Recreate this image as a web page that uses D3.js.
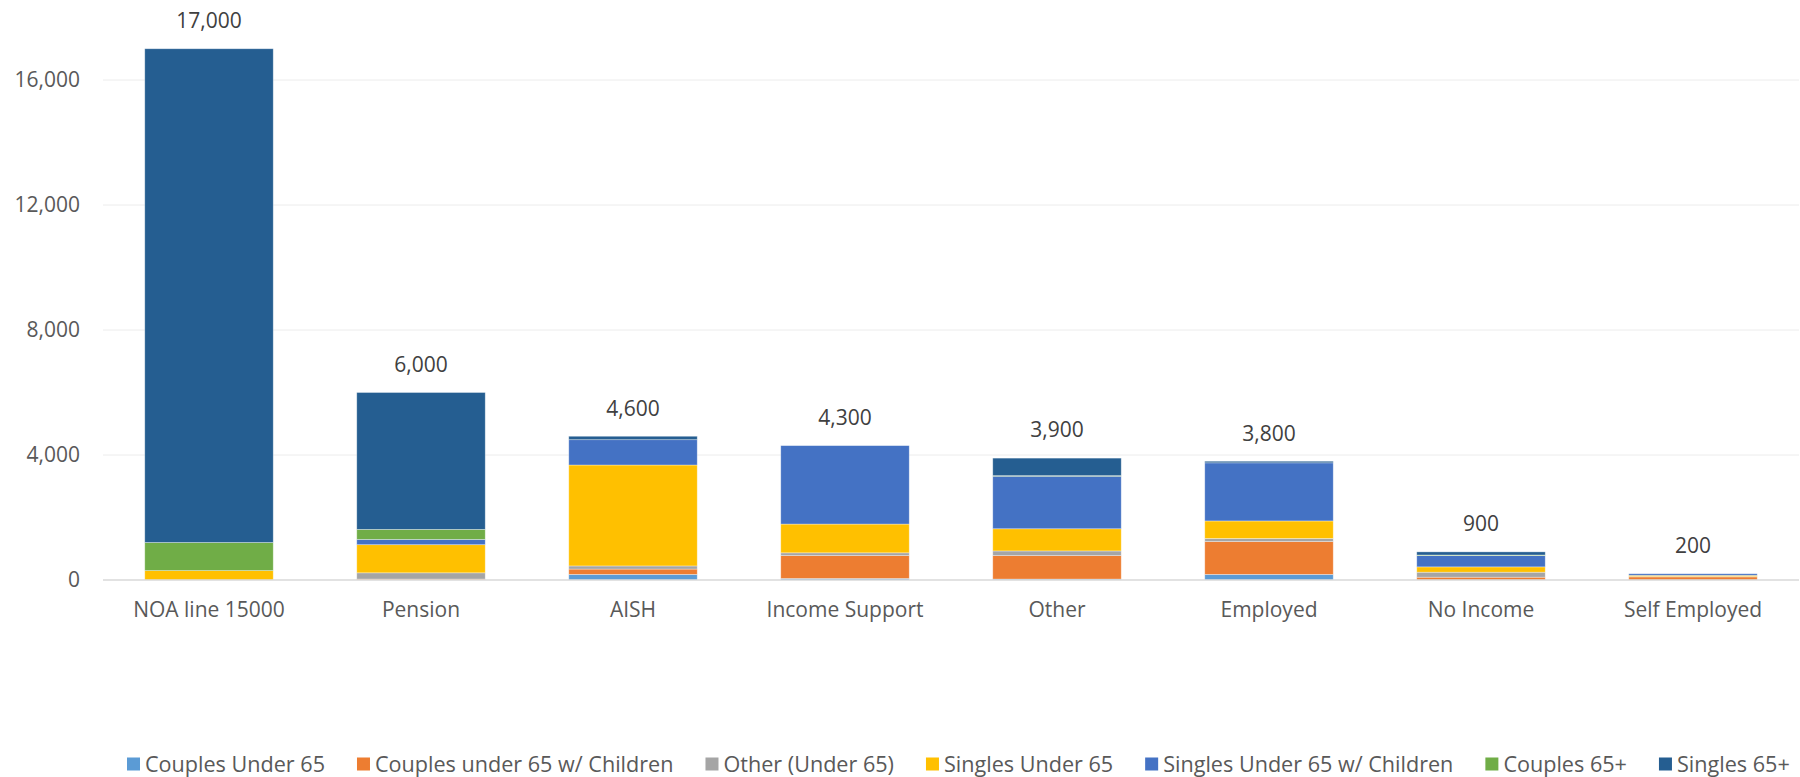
<!DOCTYPE html>
<html>
<head>
<meta charset="utf-8">
<script src="https://cdn.jsdelivr.net/npm/d3@7"></script>
<style>
  html, body { margin: 0; padding: 0; background: #ffffff; }
  svg { display: block; }
  text { font-family: "Open Sans", "Noto Sans", sans-serif; }
</style>
</head>
<body>
<svg id="chart" width="1800" height="777"></svg>
<script>
// Households by income source, stacked by household type
const categories = ["NOA line 15000", "Pension", "AISH", "Income Support", "Other", "Employed", "No Income", "Self Employed"];

const seriesNames = [
  "Couples Under 65",
  "Couples under 65 w/ Children",
  "Other (Under 65)",
  "Singles Under 65",
  "Singles Under 65 w/ Children",
  "Couples 65+",
  "Singles 65+"
];

const couplesUnder65         = [0,     0,    180, 50,   30,   180,  0,   0];
const couplesUnder65Children = [0,     30,   170, 730,  750,  1050, 90,  100];
const otherUnder65           = [0,     200,  100, 90,   150,  100,  160, 10];
const singlesUnder65         = [300,   900,  3230, 920, 710,  560,  170, 40];
const singlesUnder65Children = [0,     170,  810, 2510, 1680, 1860, 360, 50];
const couples65Plus          = [900,   320,  0,   0,    20,   0,    20,  0];
const singles65Plus          = [15800, 4380, 110, 0,    560,  50,   100, 0];

const seriesValues = [couplesUnder65, couplesUnder65Children, otherUnder65, singlesUnder65,
                      singlesUnder65Children, couples65Plus, singles65Plus];

const seriesColors = ["#5B9BD5", "#ED7D31", "#A5A5A5", "#FFC000", "#4472C4", "#70AD47", "#255E91"];

const yTicks = [0, 4000, 8000, 12000, 16000];

// Layout
const plot = { left: 103, right: 1799, top: 80, bottom: 580 };

const svg = d3.select("#chart");

const rows = categories.map((c, i) => {
  const r = { category: c };
  seriesNames.forEach((s, j) => { r[s] = seriesValues[j][i]; });
  return r;
});

const stacked = d3.stack().keys(seriesNames)(rows);

const x = d3.scaleBand()
  .domain(categories)
  .range([plot.left, plot.right])
  .paddingInner(0.394)
  .paddingOuter(0.197);

const y = d3.scaleLinear()
  .domain([0, 16000])
  .range([plot.bottom, plot.top]);

const color = d3.scaleOrdinal().domain(seriesNames).range(seriesColors);

// Gridlines
svg.append("g")
  .selectAll("line")
  .data(yTicks.filter(t => t > 0))
  .join("line")
  .attr("x1", plot.left).attr("x2", plot.right)
  .attr("y1", d => y(d)).attr("y2", d => y(d))
  .attr("stroke", "#ececec")
  .attr("stroke-width", 1);

// Y axis labels
const yAxis = svg.append("g")
  .attr("transform", `translate(${plot.left - 23},0)`)
  .call(d3.axisLeft(y).tickValues(yTicks).tickFormat(d3.format(",")).tickSize(0).tickPadding(0));
yAxis.select(".domain").remove();
yAxis.selectAll("text")
  .attr("font-size", 21)
  .attr("fill", "#595959")
  .attr("font-family", "Open Sans, Noto Sans, sans-serif");

// Bars
svg.append("g")
  .selectAll("g")
  .data(stacked)
  .join("g")
  .attr("fill", d => color(d.key))
  .selectAll("rect")
  .data(d => d)
  .join("rect")
  .attr("x", d => x(d.data.category))
  .attr("width", x.bandwidth())
  .attr("y", d => y(d[1]))
  .attr("height", d => y(d[0]) - y(d[1]))
  .attr("stroke", "#ffffff")
  .attr("stroke-opacity", 0.45)
  .attr("stroke-width", 0.75);

// Baseline
svg.append("line")
  .attr("x1", plot.left).attr("x2", plot.right)
  .attr("y1", y(0)).attr("y2", y(0))
  .attr("stroke", "#d9d9d9")
  .attr("stroke-width", 1.5);

// X axis labels
const xAxis = svg.append("g")
  .attr("transform", `translate(0,${plot.bottom + 22})`)
  .call(d3.axisBottom(x).tickSize(0).tickPadding(0));
xAxis.select(".domain").remove();
xAxis.selectAll("text")
  .attr("font-size", 21)
  .attr("fill", "#595959")
  .attr("font-family", "Open Sans, Noto Sans, sans-serif");

// Totals above each bar
const totals = rows.map(r => d3.sum(seriesNames, s => r[s]));
svg.append("g")
  .selectAll("text")
  .data(categories)
  .join("text")
  .attr("x", d => x(d) + x.bandwidth() / 2)
  .attr("y", (d, i) => y(totals[i]) - 28)
  .attr("dy", "0.35em")
  .attr("text-anchor", "middle")
  .attr("font-size", 21)
  .attr("fill", "#404040")
  .text((d, i) => d3.format(",")(totals[i]));

// Legend
const legend = svg.append("g").attr("transform", "translate(127,764)");
let cursor = 0;
seriesNames.forEach(name => {
  const item = legend.append("g").attr("transform", `translate(${cursor},0)`);
  item.append("rect")
    .attr("x", 0).attr("y", -6.5)
    .attr("width", 13).attr("height", 13)
    .attr("fill", color(name));
  const t = item.append("text")
    .attr("x", 18).attr("y", 0)
    .attr("dy", "0.35em")
    .attr("font-size", 21.6)
    .attr("fill", "#595959")
    .text(name);
  cursor += 18 + t.node().getComputedTextLength() + 32;
});
</script>
</body>
</html>
